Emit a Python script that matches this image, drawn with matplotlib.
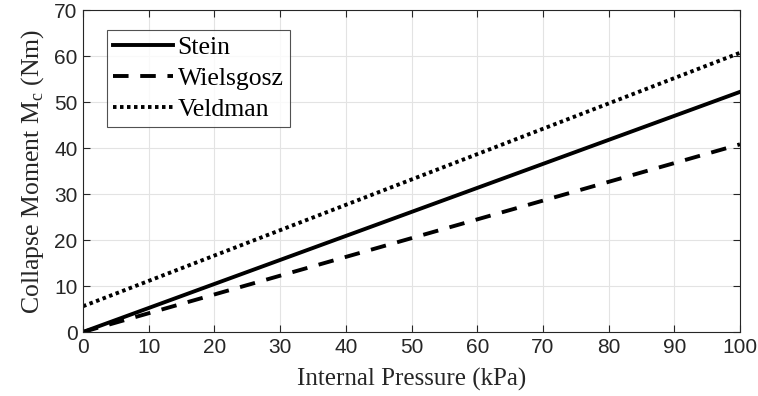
import matplotlib
matplotlib.use("Agg")
import matplotlib.pyplot as plt
import numpy as np

pressure = [0, 100]
stein = [0, 52.2]
wielsgosz = [0, 40.8]
veldman = [5.6, 60.7]
labels = ["Stein", "Wielsgosz", "Veldman"]

fig = plt.figure(figsize=(7.58, 3.96), dpi=100)
ax = fig.add_axes([83/758, 1 - 332/396, (740-83)/758, (332-10)/396])

ax.plot(pressure, stein, color="black", lw=2.8, ls="-", label=labels[0])
ax.plot(pressure, wielsgosz, color="black", lw=2.8, ls=(0, (4, 3)), label=labels[1])
ax.plot(pressure, veldman, color="black", lw=2.8, ls=(0, (0.9, 0.9)), label=labels[2])

ax.set_xlim(0, 100)
ax.set_ylim(0, 70)
ax.set_xticks(np.arange(0, 101, 10))
ax.set_yticks(np.arange(0, 71, 10))
ax.grid(True, color="#e3e3e3", lw=0.8)
ax.set_axisbelow(True)
ax.tick_params(direction="in", top=True, right=True, length=5, pad=4, labelsize=15,
               color="#262626", labelcolor="#262626")
for lab in ax.get_xticklabels() + ax.get_yticklabels():
    lab.set_family("Liberation Sans")
for sp in ax.spines.values():
    sp.set_color("#262626")
    sp.set_linewidth(0.8)

ax.set_xlabel("Internal Pressure (kPa)", family="Liberation Serif", fontsize=18, color="#262626", labelpad=8)
ax.set_ylabel(r"Collapse Moment M$_\mathregular{c}$ (Nm)", family="Liberation Serif", fontsize=18.5,
              color="#262626", labelpad=6)

leg = ax.legend(loc="upper left", bbox_to_anchor=(0.0365, 0.938), prop={"family": "Liberation Serif", "size": 18.5},
                frameon=True, fancybox=False, edgecolor="#262626", handlelength=2.3, handletextpad=0.2,
                labelspacing=0.3, borderpad=0.25, borderaxespad=0)
leg.get_frame().set_linewidth(0.8)

fig.savefig("out.png", dpi=100)
